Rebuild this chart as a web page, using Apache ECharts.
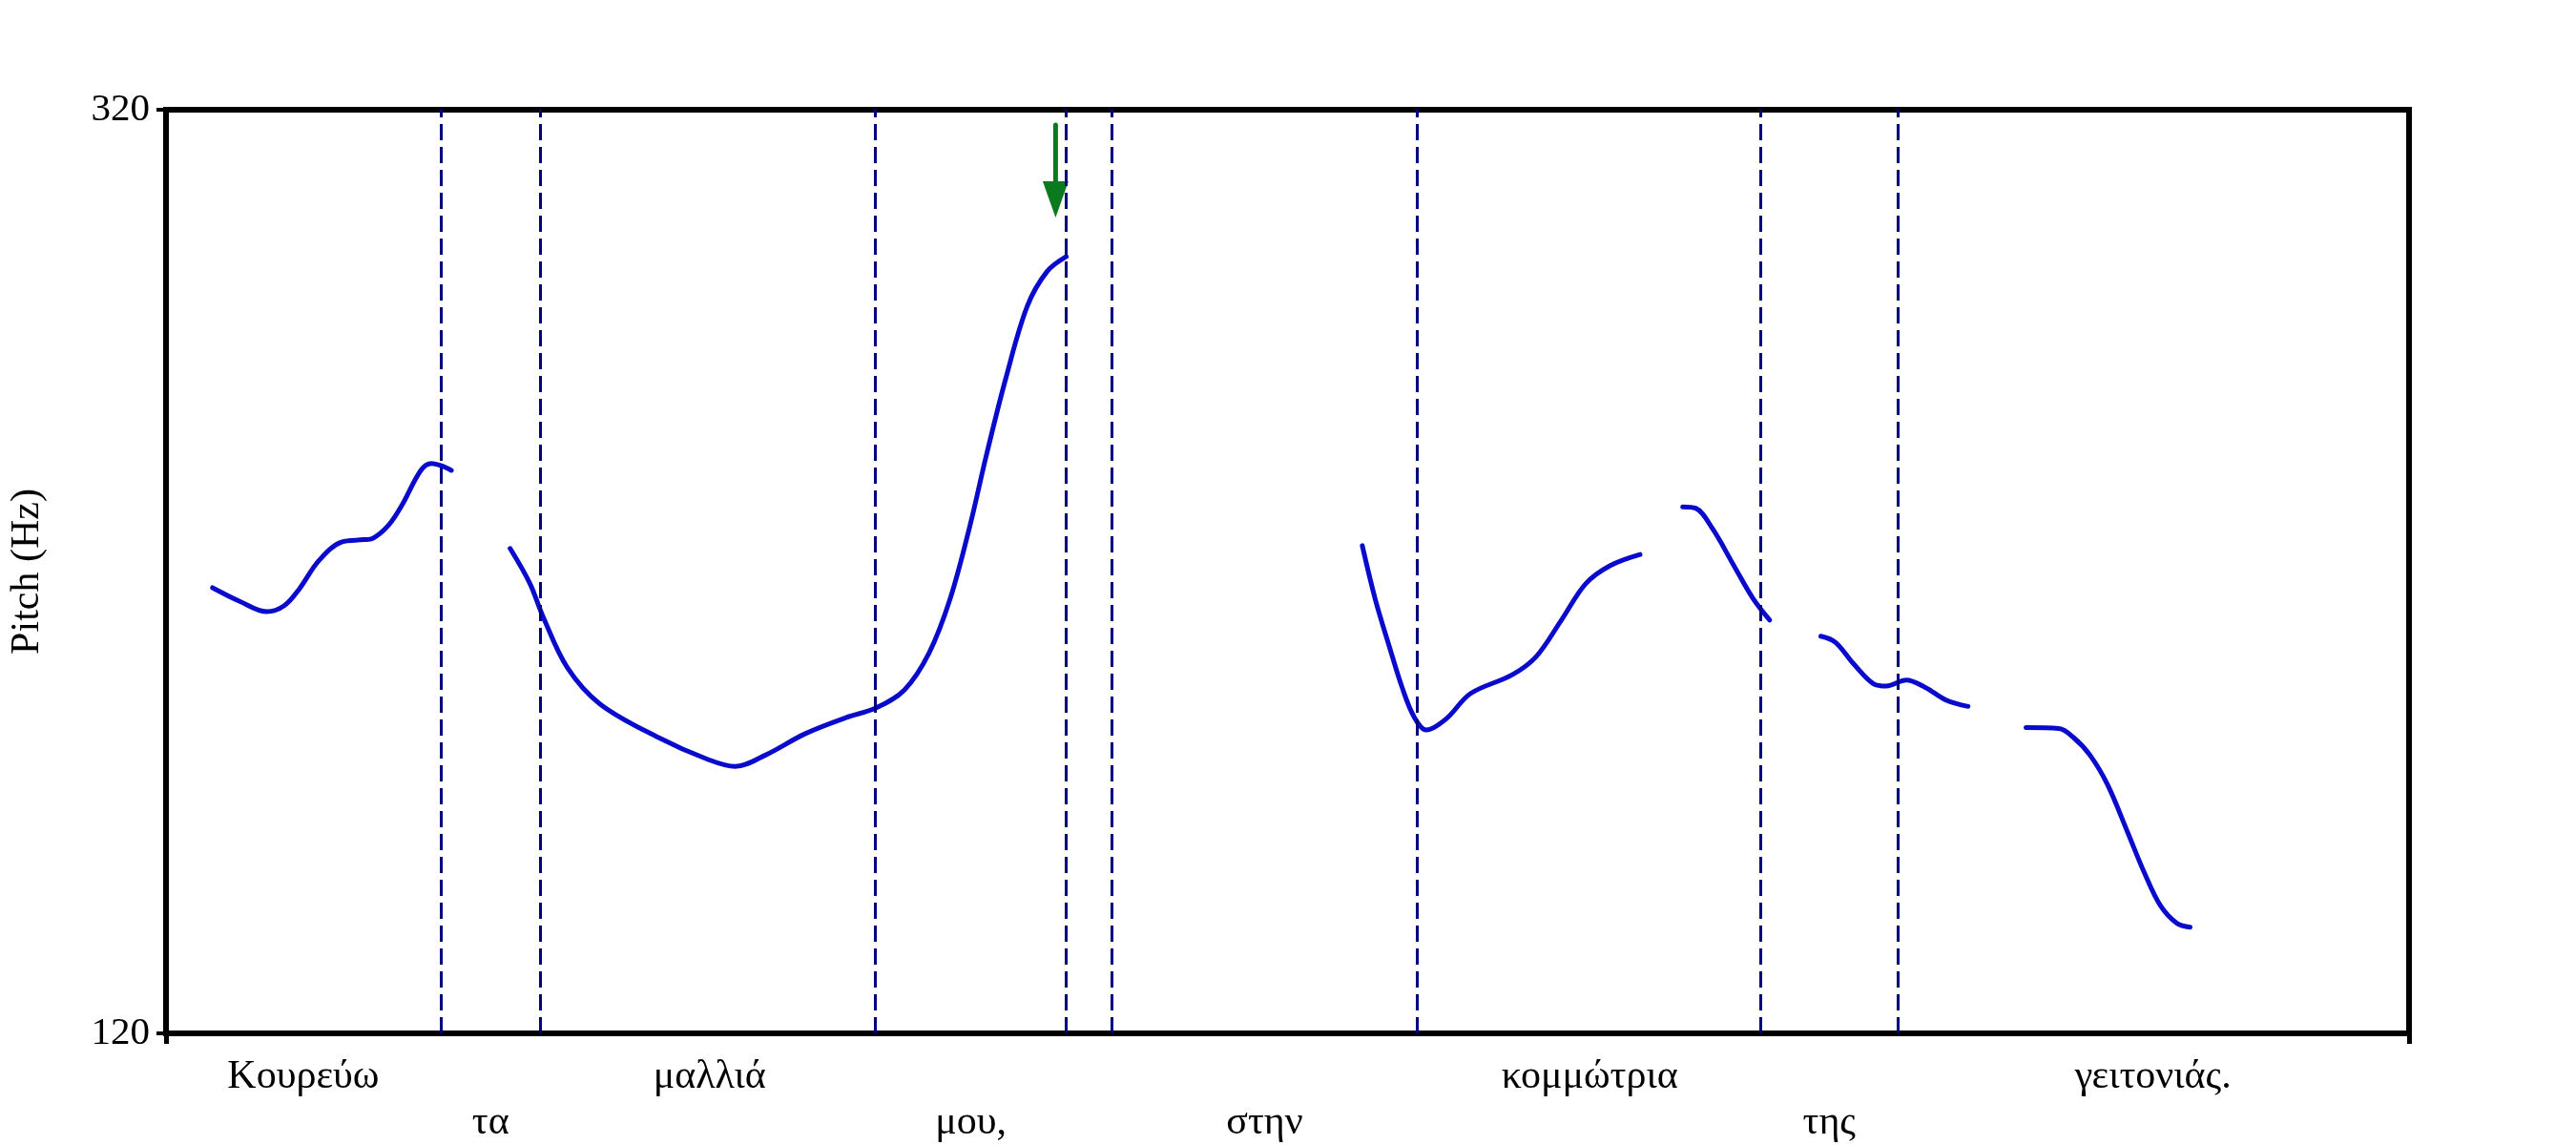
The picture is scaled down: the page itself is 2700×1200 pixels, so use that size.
<!DOCTYPE html>
<html>
<head>
<meta charset="utf-8">
<script src="https://cdn.jsdelivr.net/npm/echarts@6/dist/echarts.min.js"></script>
<style>
html,body{margin:0;padding:0;background:#fff;}
#chart{width:2700px;height:1200px;}
</style>
</head>
<body>
<div id="chart"></div>
<script>
// ---- data (time in s, pitch in Hz) ----
const timeStart = 0;
const timeEnd = 2.94;
const pitchMin = 120;
const pitchMax = 320;
const yTickValues = [120, 320];
const boundaries = [0.360, 0.491, 0.934, 1.176, 1.239, 1.641, 2.091, 2.269];
const words = ['Κουρεύω', 'τα', 'μαλλιά', 'μου,', '', 'στην', 'κομμώτρια', 'της', 'γειτονιάς.'];
const wordRows = [1, 2, 1, 2, 1, 2, 1, 2, 1];

const seg1 = [[0.061,216.5],[0.096,213.6],[0.132,211.3],[0.155,212.6],[0.175,216.3],[0.200,222.3],[0.230,226.4],[0.259,226.9],[0.271,227.2],[0.292,230.1],[0.309,234.3],[0.334,241.9],[0.348,243.4],[0.361,242.9],[0.374,241.9]];
const seg2 = [[0.451,225.0],[0.477,217.4],[0.494,210.3],[0.526,199.2],[0.569,191.3],[0.645,184.1],[0.709,179.4],[0.746,177.8],[0.785,180.2],[0.838,184.9],[0.892,188.4],[0.931,190.5],[0.968,194.4],[1.000,202.3],[1.028,214.2],[1.054,230.1],[1.075,245.0],[1.101,262.0],[1.129,277.5],[1.155,285.0],[1.180,288.2]];
const seg3 = [[1.568,225.6],[1.585,214.0],[1.603,204.0],[1.620,195.0],[1.636,188.5],[1.652,185.7],[1.678,188.1],[1.710,193.6],[1.764,197.6],[1.796,201.6],[1.829,209.5],[1.861,217.4],[1.893,221.3],[1.932,223.7]];
const seg4 = [[1.988,234.0],[2.005,233.7],[2.027,229.3],[2.055,221.3],[2.080,214.2],[2.102,209.5]];
const seg5 = [[2.169,206.0],[2.188,204.7],[2.212,200.0],[2.238,195.7],[2.255,195.2],[2.281,196.5],[2.306,194.9],[2.334,192.1],[2.362,190.8]];
const seg6 = [[2.438,186.2],[2.481,186.0],[2.500,184.1],[2.522,180.2],[2.545,173.8],[2.571,163.6],[2.593,154.8],[2.614,147.7],[2.636,143.8],[2.653,143.0]];
const segments = [seg1, seg2, seg3, seg4, seg5, seg6];

// green arrow marking the peak
const arrowTime = 1.166;
const arrowShaft = [[arrowTime, 316.7], [arrowTime, 303.5]];
const arrowHead = [[arrowTime, 300.6]];

// ---- derived ----
const edges = [timeStart].concat(boundaries, [timeEnd]);
const mids = words.map((w, i) => (edges[i] + edges[i + 1]) / 2);
const row1Vals = mids.filter((m, i) => wordRows[i] === 1 && words[i] !== '');
const row2Vals = mids.filter((m, i) => wordRows[i] === 2 && words[i] !== '');
function wordAt(v) {
  for (let i = 0; i < mids.length; i++) {
    if (Math.abs(mids[i] - v) < 1e-6) return words[i];
  }
  return '';
}

const serif = 'Liberation Serif, Times New Roman, serif';
const curveColor = '#0a0acd';
const dashColor = '#00007f';
const arrowColor = '#0b7a1e';

const series = [];
series.push({
  type: 'line',
  data: [],
  z: 1,
  silent: true,
  markLine: {
    silent: true,
    symbol: 'none',
    label: { show: false },
    lineStyle: { type: [17, 7], color: dashColor, width: 3 },
    emphasis: { disabled: true },
    data: boundaries.map(b => ({ xAxis: b }))
  }
});
segments.forEach(seg => {
  series.push({
    type: 'line',
    data: seg,
    z: 3,
    smooth: 0.35,
    showSymbol: false,
    symbol: 'none',
    lineStyle: { color: curveColor, width: 5, cap: 'round', join: 'round' }
  });
});
series.push({
  type: 'line',
  data: arrowShaft,
  z: 4,
  showSymbol: false,
  symbol: 'none',
  lineStyle: { color: arrowColor, width: 5, cap: 'round' }
});
series.push({
  type: 'scatter',
  data: arrowHead,
  z: 4,
  symbol: 'triangle',
  symbolSize: [27, 38],
  symbolRotate: 180,
  itemStyle: { color: arrowColor, opacity: 1 },
  emphasis: { disabled: true }
});

const chart = echarts.init(document.getElementById('chart'));
chart.setOption({
  animation: false,
  backgroundColor: '#fff',
  grid: {
    left: 173, right: 175, top: 115, bottom: 117,
    show: true, borderWidth: 6, borderColor: '#000', backgroundColor: 'transparent'
  },
  xAxis: [
    {
      type: 'value', min: timeStart, max: timeEnd, position: 'bottom',
      axisLine: { show: false },
      splitLine: { show: false },
      axisTick: { show: true, customValues: [timeStart, timeEnd], length: 11, lineStyle: { color: '#000', width: 5 } },
      axisLabel: {
        customValues: row1Vals, formatter: v => wordAt(v),
        margin: 25, fontFamily: serif, fontSize: 42, lineHeight: 42, color: '#000'
      }
    },
    {
      type: 'value', min: timeStart, max: timeEnd, position: 'bottom',
      axisLine: { show: false },
      splitLine: { show: false },
      axisTick: { show: false },
      axisLabel: {
        customValues: row2Vals, formatter: v => wordAt(v),
        margin: 73, fontFamily: serif, fontSize: 42, lineHeight: 42, color: '#000'
      }
    }
  ],
  yAxis: {
    type: 'value', min: pitchMin, max: pitchMax,
    name: 'Pitch (Hz)', nameLocation: 'middle', nameRotate: 90, nameGap: 124,
    nameTextStyle: { fontFamily: serif, fontSize: 42, color: '#000' },
    axisLine: { show: false },
    splitLine: { show: false },
    axisTick: { show: true, customValues: yTickValues, length: 10, lineStyle: { color: '#000', width: 4 } },
    axisLabel: { customValues: yTickValues, margin: 17, fontFamily: serif, fontSize: 41, color: '#000' }
  },
  series: series
});
</script>
</body>
</html>
